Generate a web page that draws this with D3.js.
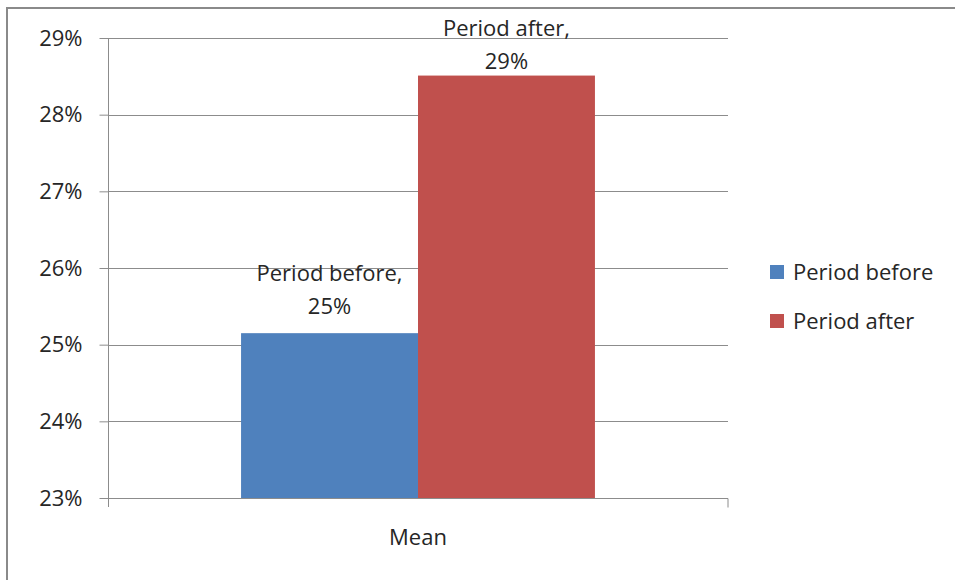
<!DOCTYPE html>
<html>
<head>
<meta charset="utf-8">
<script src="https://cdn.jsdelivr.net/npm/d3@7"></script>
<style>
  html, body { margin: 0; padding: 0; background: #fff; }
  svg { display: block; }
  text { font-family: "Open Sans", Lato, sans-serif; fill: #262626; }
</style>
</head>
<body>
<svg id="chart" width="955" height="580"></svg>
<script>
// Mean share for each period
const categories = ["Mean"];
const seriesNames = ["Period before", "Period after"];
const seriesValues = [0.2515, 0.2851];
const seriesColors = ["#4F81BD", "#C0504D"];
const yTicks = [0.23, 0.24, 0.25, 0.26, 0.27, 0.28, 0.29];

const svg = d3.select("#chart");
const W = 955, H = 580;
const plot = { left: 108, right: 728, top: 38, bottom: 498 };
const fmt = d3.format(".0%");
const FONT = "'Open Sans', Lato, sans-serif";
const FS = 22;

// Outer chart frame (extends past the right and bottom edges)
svg.append("rect")
  .attr("x", 7).attr("y", 8)
  .attr("width", W + 20).attr("height", H + 20)
  .attr("fill", "none").attr("stroke", "#8a8a8a").attr("stroke-width", 2);

const x0 = d3.scaleBand().domain(categories).range([plot.left, plot.right]).paddingInner(0).paddingOuter(0.376);
const x1 = d3.scaleBand().domain(seriesNames).range([0, x0.bandwidth()]);
const y = d3.scaleLinear().domain([0.23, 0.29]).range([plot.bottom, plot.top]);

// Horizontal gridlines
svg.append("g")
  .selectAll("line").data(yTicks).join("line")
  .attr("x1", plot.left).attr("x2", plot.right)
  .attr("y1", d => Math.round(y(d)) + 0.5).attr("y2", d => Math.round(y(d)) + 0.5)
  .attr("stroke", "#8c8c8c").attr("stroke-width", 1);

// Y axis
const yAxis = svg.append("g")
  .attr("transform", `translate(${plot.left + 0.5},0)`)
  .call(d3.axisLeft(y).tickValues(yTicks).tickFormat(fmt).tickSize(9).tickPadding(17));
yAxis.select(".domain").attr("stroke", "#8c8c8c").attr("d", `M0,${plot.top}V${plot.bottom + 9}`);
yAxis.selectAll(".tick line").attr("stroke", "#8c8c8c");
yAxis.selectAll(".tick text").attr("font-size", FS).attr("fill", "#262626")
  .attr("font-family", FONT);

// X axis
const xAxis = svg.append("g")
  .attr("transform", `translate(0,${Math.round(plot.bottom) + 0.5})`)
  .call(d3.axisBottom(x0).tickSize(0).tickPadding(31));
xAxis.select(".domain").attr("stroke", "#8c8c8c").attr("d", `M${plot.left},0H${plot.right}V9`);
xAxis.selectAll(".tick text").attr("font-size", FS).attr("fill", "#262626")
  .attr("font-family", FONT);

// Bars
const rows = seriesNames.map((name, i) => ({ name, value: seriesValues[i], color: seriesColors[i] }));
const g = svg.append("g").attr("transform", `translate(${x0(categories[0])},0)`);
g.selectAll("rect").data(rows).join("rect")
  .attr("x", d => x1(d.name))
  .attr("width", x1.bandwidth())
  .attr("y", d => y(d.value))
  .attr("height", d => y(0.23) - y(d.value))
  .attr("fill", d => d.color);

// Data labels: series name and value above each bar, kept inside the chart frame
const firstLine = d => Math.max(y(d.value) - 52, 36);
const labels = g.selectAll("text.lbl").data(rows).join("text")
  .attr("class", "lbl")
  .attr("text-anchor", "middle")
  .attr("font-size", FS);
labels.append("tspan")
  .attr("x", d => x1(d.name) + x1.bandwidth() / 2)
  .attr("y", firstLine)
  .text(d => d.name + ",");
labels.append("tspan")
  .attr("x", d => x1(d.name) + x1.bandwidth() / 2)
  .attr("y", d => firstLine(d) + 33)
  .text(d => fmt(d.value));

// Legend
const legend = svg.append("g").attr("transform", "translate(770,265)");
const li = legend.selectAll("g").data(rows).join("g")
  .attr("transform", (d, i) => `translate(0,${i * 49})`);
li.append("rect").attr("width", 14).attr("height", 14).attr("fill", d => d.color);
li.append("text").attr("x", 23).attr("y", 7).attr("dy", "0.36em")
  .attr("font-size", FS).text(d => d.name);
</script>
</body>
</html>
